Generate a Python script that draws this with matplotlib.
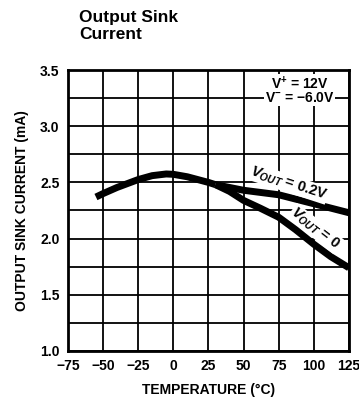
import matplotlib.pyplot as plt
import numpy as np

# data
temp_common = [-55, -50, -40, -25, -15, -5, 0, 10, 25, 30]
sink_common = [2.37, 2.40, 2.455, 2.525, 2.56, 2.575, 2.572, 2.55, 2.50, 2.48]

temp_02v = [30, 50, 75, 100, 125]
sink_02v = [2.48, 2.43, 2.39, 2.31, 2.23]

temp_0v = [30, 40, 50, 62, 75, 87, 100, 112, 125]
sink_0v = [2.48, 2.42, 2.34, 2.27, 2.19, 2.08, 1.95, 1.84, 1.74]

xticks = [-75, -50, -25, 0, 25, 50, 75, 100, 125]
yticks = [1.0, 1.5, 2.0, 2.5, 3.0, 3.5]

plt.rcParams['font.family'] = ['Liberation Sans', 'DejaVu Sans']
plt.rcParams['mathtext.fontset'] = 'custom'
plt.rcParams['mathtext.rm'] = 'Liberation Sans:bold'
plt.rcParams['mathtext.it'] = 'Liberation Sans:bold:italic'

fig = plt.figure(figsize=(3.59, 4.0), dpi=100)
ax = fig.add_axes([0.189, 0.1225, 0.783, 0.7025])

ax.set_xlim(-75, 125)
ax.set_ylim(1.0, 3.5)
ax.set_xticks(xticks)
ax.set_xticklabels(['\u221275', '\u221250', '\u221225', '0', '25', '50', '75', '100', '125'])
ax.set_yticks(yticks)
ax.set_yticklabels(['%.1f' % v for v in yticks])
ax.set_xticks(np.arange(-75, 126, 25), minor=True)
ax.set_yticks(np.arange(1.0, 3.51, 0.25), minor=True)
ax.grid(True, which='both', color='black', lw=1.3)
ax.tick_params(length=0, which='both', labelsize=10, pad=6)
for lab in ax.get_xticklabels() + ax.get_yticklabels():
    lab.set_fontweight('bold')
for s in ax.spines.values():
    s.set_linewidth(2)

ax.plot(temp_common, sink_common, color='black', lw=5, solid_capstyle='butt')
ax.plot(temp_02v, sink_02v, color='black', lw=5, solid_capstyle='butt')
ax.plot(temp_0v, sink_0v, color='black', lw=5, solid_capstyle='butt')

ax.text(82, 2.49, r'$V_{OUT}$ = 0.2V', rotation=-18, fontsize=10.5, fontweight='bold',
        ha='center', va='center', bbox=dict(facecolor='white', edgecolor='none', pad=0.5))
ax.text(101, 2.09, r'$V_{OUT}$ = 0', rotation=-38, fontsize=10.5, fontweight='bold',
        ha='center', va='center', bbox=dict(facecolor='white', edgecolor='none', pad=0.5))

ax.text(90, 3.38, 'V$^{+}$ = 12V', fontsize=10, fontweight='bold', ha='center', va='center',
        bbox=dict(facecolor='white', edgecolor='none', pad=0.5))
ax.text(90, 3.25, 'V$^{-}$ = \u22126.0V', fontsize=10, fontweight='bold', ha='center', va='center',
        bbox=dict(facecolor='white', edgecolor='none', pad=0.5))

ax.set_xlabel('TEMPERATURE (\u00b0C)', fontsize=10, fontweight='bold', labelpad=7)
ax.set_ylabel('OUTPUT SINK CURRENT (mA)', fontsize=10, fontweight='bold', labelpad=8)

fig.text(0.22, 0.975, 'Output Sink\nCurrent', fontsize=12.5, fontweight='bold',
         ha='left', va='top', linespacing=1.15)

fig.savefig('out.png', dpi=100)
